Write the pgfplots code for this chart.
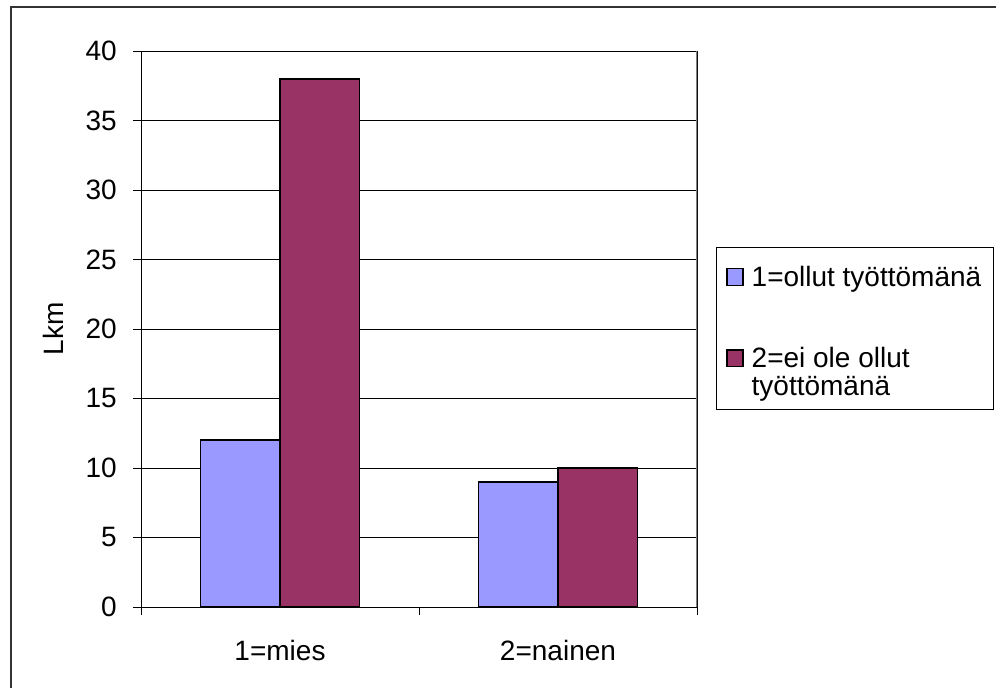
\documentclass[border=0pt]{standalone}
\usepackage{pgfplots}
\pgfplotsset{compat=1.18}
\usepackage{fontspec}
\setmainfont{Liberation Sans}
\definecolor{cblue}{HTML}{9999FF}
\definecolor{cred}{HTML}{993366}
\begin{document}
\fontsize{21}{21.5}\selectfont
\begin{tikzpicture}
\useasboundingbox (0,0) rectangle (747pt,516pt);
\draw[line width=0.9pt, black!80] (8.25pt,0) -- (8.25pt,510.75pt) -- (747pt,510.75pt);
\begin{axis}[
  at={(105.75pt,60.75pt)}, anchor=south west,
  scale only axis, width=417pt, height=417pt,
  ybar=0pt, bar width=59.6pt,
  xmin=-0.5, xmax=1.5, ymin=0, ymax=40,
  xtick={-0.5,0.5,1.5}, xticklabels={},
  extra x ticks={0,1}, extra x tick labels={1=mies,2=nainen},
  extra x tick style={major tick length=0pt, xticklabel style={anchor=north, inner sep=0pt, yshift=-24.75pt}},
  ytick={0,5,...,40},
  /pgf/number format/assume math mode=true,
  ymajorgrids, grid style={black, line width=0.6pt},
  tick align=outside, major tick length=6pt,
  tick style={black, line width=0.6pt},
  xtick pos=bottom, ytick pos=left,
  axis line style={black, line width=0.7pt},
  yticklabel style={anchor=east, inner sep=0pt, xshift=-12pt},
  ylabel={Lkm},
  every axis y label/.style={at={(axis description cs:-0.1583,0.5)}, rotate=90, anchor=center},
  tick label style={font=\fontsize{21}{21.5}\selectfont},
  label style={font=\fontsize{21}{21.5}\selectfont},
  legend style={at={(axis description cs:1.0342,0.6475)}, anchor=north west,
    draw=black, line width=0.7pt, inner xsep=7.5pt, inner ysep=4.8pt, row sep=38.5pt,
    column sep=4pt,
    font=\fontsize{21}{21.5}\selectfont,
    cells={anchor=base west, inner sep=0pt}},
  sq/.style={legend image code/.code={\draw[##1, line width=0.9pt] (0pt,0.75pt) rectangle (12pt,13pt);}},
  sqb/.style={legend image code/.code={\draw[##1, line width=0.9pt] (0pt,22.25pt) rectangle (12pt,34.5pt);}},
]
\addplot[fill=cblue, draw=black, line width=1.1pt, sq] coordinates {(0,12) (1,9)};
\addplot[fill=cred, draw=black, line width=1.1pt, sqb] coordinates {(0,38) (1,10)};
\legend{{\begin{tabular}[t]{@{}l@{}}\rule{0pt}{22.2pt}1=ollut työttömänä\end{tabular}},
        {\begin{tabular}[b]{@{}l@{}}2=ei ole ollut\\työttömänä\end{tabular}}}
\draw[gray, line width=0.9pt] (axis cs:1.5,0) -- (axis cs:1.5,40);
\end{axis}
\end{tikzpicture}
\end{document}
